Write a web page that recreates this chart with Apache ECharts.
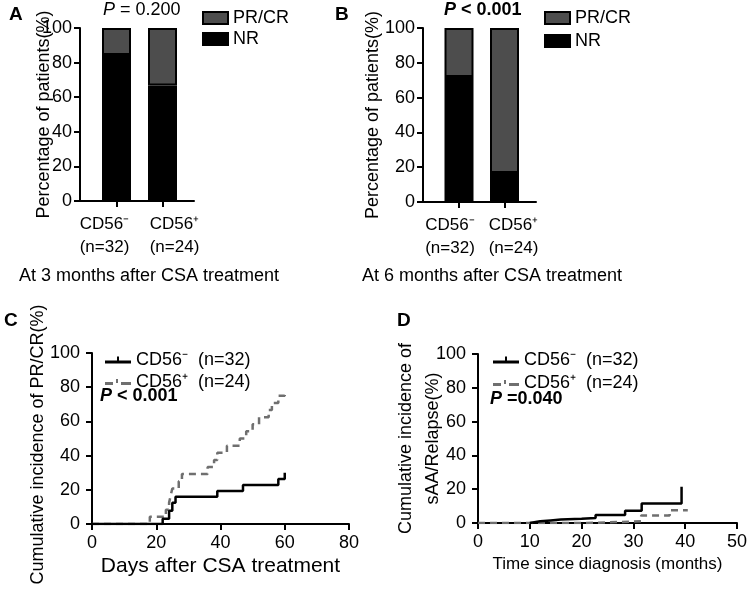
<!DOCTYPE html>
<html><head><meta charset="utf-8">
<script src="https://cdn.jsdelivr.net/npm/echarts@6/dist/echarts.min.js"></script>
<style>html,body{margin:0;padding:0;background:#fff}#c{width:750px;height:595px}</style>
</head><body><div id="c"></div>
<script>
// ---- data ----
const barCategories = ['CD56\u207B\n(n=32)', 'CD56\u207A\n(n=24)'];
const nr3 = [84.4, 66.7];
const prcr3 = [15.6, 33.3];
const nr6 = [71.9, 16.7];
const prcr6 = [28.1, 83.3];

// Panel C: cumulative incidence of PR/CR vs days
const cNeg = [[0,0],[22,3.1],[24,7.8],[25,12.5],[26,16],[39,19.3],[47,22.8],[58,26.3],[60,30]];
const cPos = [[0,0],[18,4.2],[23,8.3],[24,12.5],[24.5,16.7],[25,20.8],[27,25],[28,29.2],[36,33.3],[38,37.5],[39,41.7],[42,45.8],[46,50],[48,54.2],[50,58.3],[52,62.5],[55,66.7],[56,70.8],[58,75],[60,77.5]];
// Panel D: cumulative incidence of sAA/Relapse vs months
const dNeg = [[10,0],[10,1],[12,1.5],[14,2],[16,2.5],[20,3],[22.7,4.7],[28.4,7.3],[31.6,11.6],[39.3,21.5]];
const dPos = [[0,0],[21,1],[31.5,4.5],[37,7.5],[40.5,7.5]];

const negName = 'CD56\u207B  (n=32)';
const posName = 'CD56\u207A  (n=24)';

// ---- chart ----
const ff = 'Liberation Sans, Arial, Helvetica, sans-serif';
const chart = echarts.init(document.getElementById('c'));

const axisLineStyle = {show: true, lineStyle: {color: '#000', width: 2}};
const tickStyle = {show: true, length: 6, lineStyle: {color: '#000', width: 2}};
const lbl = {color: '#000', fontSize: 18, fontFamily: ff};

function barX(idx, spread) {
  const base = {color: '#000', fontSize: 17, fontFamily: ff, lineHeight: 23};
  return {
    type: 'category', gridIndex: idx, data: barCategories,
    axisLine: {show: false}, splitLine: {show: false},
    axisTick: Object.assign({alignWithLabel: true}, tickStyle),
    axisLabel: {color: '#000', fontSize: 17, fontFamily: ff, lineHeight: 23, margin: 12, interval: 0,
      formatter: (v, i) => v.split('\n').map(s => '{' + (i === 0 ? 'a' : 'b') + '|' + s + '}').join('\n'),
      rich: {
        a: Object.assign({padding: [0, spread, 0, 0]}, base),
        b: Object.assign({padding: [0, 0, 0, spread]}, base)
      }}
  };
}
function barY(idx, gap, offset) {
  return {
    type: 'value', gridIndex: idx, min: 0, max: 100, interval: 20, offset: offset,
    axisLine: axisLineStyle, axisTick: tickStyle, splitLine: {show: false},
    axisLabel: Object.assign({margin: 8}, lbl),
    name: 'Percentage of patients(%)', nameLocation: 'middle', nameGap: gap, nameMoveOverlap: false,
    nameTextStyle: {color: '#000', fontSize: 18, fontFamily: ff}
  };
}
// frame axis that draws the full-width baseline of a bar panel
function baseX(idx) {
  return {type: 'value', gridIndex: idx, min: 0, max: 1, axisLine: axisLineStyle,
    axisTick: {show: false}, axisLabel: {show: false}, splitLine: {show: false}};
}
function hiddenY(idx) {
  return {type: 'value', gridIndex: idx, min: 0, max: 1, show: false};
}
function barSeries(name, vals, idx, color) {
  return {
    type: 'bar', name: name, stack: 'b' + idx, xAxisIndex: idx, yAxisIndex: idx,
    barWidth: 29, data: vals,
    itemStyle: {color: color, borderColor: '#000', borderWidth: 2},
    emphasis: {disabled: true}
  };
}
function kmSeries(name, data, idx, dashed) {
  return {
    type: 'line', name: name, step: 'end', xAxisIndex: idx, yAxisIndex: idx,
    data: data, showSymbol: false, symbol: 'none',
    itemStyle: {color: dashed ? '#6f6f6f' : '#000'},
    lineStyle: {color: dashed ? '#6f6f6f' : '#000', width: 2.5, type: dashed ? [7, 5] : 'solid'},
    emphasis: {disabled: true}
  };
}
function titleText(text, left, top, size, weight, rich) {
  return {text: text, left: left, top: top, padding: 0,
    textStyle: {color: '#000', fontSize: size, fontWeight: weight || 'normal', fontFamily: ff, rich: rich}};
}
const pRichNormal = {i: {fontStyle: 'italic', fontSize: 18, fontFamily: ff, color: '#000'}};
const pRichBold = {i: {fontStyle: 'italic', fontWeight: 'bold', fontSize: 18, fontFamily: ff, color: '#000'}};

const solidIcon = 'path://M0,4h26v3h-26z M12,0h2v4h-2z';
const dashIcon = 'path://M0,4h8v3h-8z M11,1h2v4h-2z M16,4h10v3h-10z';

function kmLegend(left, top, gap) {
  return {data: [{name: negName, icon: solidIcon}, {name: posName, icon: dashIcon}],
    orient: 'vertical', left: left, top: top, itemWidth: 26, itemHeight: 8, itemGap: gap,
    textStyle: {color: '#000', fontSize: 18, fontFamily: ff}, selectedMode: false};
}
function barLegend(left, top, gap) {
  return {data: ['PR/CR', 'NR'], orient: 'vertical', left: left, top: top, itemWidth: 25, itemHeight: 12,
    itemGap: gap, icon: 'rect', textStyle: {color: '#000', fontSize: 18, fontFamily: ff}, selectedMode: false};
}

const option = {
  animation: false,
  textStyle: {fontFamily: ff},
  title: [
    titleText('A', 9, 5, 19, 'bold'),
    titleText('B', 335, 5, 19, 'bold'),
    titleText('C', 4, 311, 19, 'bold'),
    titleText('D', 397, 311, 19, 'bold'),
    titleText('{i|P} = 0.200', 103, 1, 18, 'normal', pRichNormal),
    titleText('{i|P} < 0.001', 444, 1, 18, 'bold', pRichBold),
    titleText('At 3 months after CSA treatment', 19, 267, 18),
    titleText('At 6 months after CSA treatment', 362, 267, 18),
    titleText('{i|P} < 0.001', 100, 387, 18, 'bold', pRichBold),
    titleText('{i|P} =0.040', 490, 390, 18, 'bold', pRichBold)
  ],
  legend: [
    barLegend(197, 4, 3),
    barLegend(539, 4, 5),
    kmLegend(100, 346, 4),
    kmLegend(488, 346, 5)
  ],
  grid: [
    {left: 93.5, top: 28, width: 92, height: 173},
    {left: 436.25, top: 28, width: 91, height: 174},
    {left: 92, top: 353, width: 257, height: 171},
    {left: 478, top: 354, width: 261, height: 169},
    {left: 80, top: 28, width: 114, height: 173},
    {left: 423, top: 28, width: 113, height: 174}
  ],
  xAxis: [
    barX(0, 24), barX(1, 18),
    {type: 'value', gridIndex: 2, min: 0, max: 80, interval: 20, axisLine: axisLineStyle, axisTick: tickStyle,
     splitLine: {show: false}, axisLabel: Object.assign({margin: 10}, lbl),
     name: 'Days after CSA treatment', nameLocation: 'middle', nameGap: 32, nameMoveOverlap: false,
     nameTextStyle: {color: '#000', fontSize: 21, fontFamily: ff}},
    {type: 'value', gridIndex: 3, min: 0, max: 50, interval: 10, axisLine: axisLineStyle, axisTick: tickStyle,
     splitLine: {show: false}, axisLabel: Object.assign({margin: 10}, lbl),
     name: 'Time since diagnosis (months)', nameLocation: 'middle', nameGap: 33, nameMoveOverlap: false,
     nameTextStyle: {color: '#000', fontSize: 17, fontFamily: ff}},
    baseX(4), baseX(5)
  ],
  yAxis: [
    barY(0, 27, 13.5), barY(1, 41, 13.25),
    {type: 'value', gridIndex: 2, min: 0, max: 100, interval: 20, axisLine: axisLineStyle, axisTick: tickStyle,
     splitLine: {show: false}, axisLabel: Object.assign({margin: 12}, lbl),
     name: 'Cumulative incidence of PR/CR(%)', nameLocation: 'middle', nameGap: 45, nameMoveOverlap: false,
     nameTextStyle: {color: '#000', fontSize: 18, fontFamily: ff, padding: [0, 12, 0, 0]}},
    {type: 'value', gridIndex: 3, min: 0, max: 100, interval: 20, axisLine: axisLineStyle, axisTick: tickStyle,
     splitLine: {show: false}, axisLabel: Object.assign({margin: 12}, lbl),
     name: 'Cumulative incidence of\nsAA/Relapse(%)', nameLocation: 'middle', nameGap: 31, nameMoveOverlap: false,
     nameTextStyle: {color: '#000', fontSize: 18, fontFamily: ff, lineHeight: 27}},
    hiddenY(4), hiddenY(5)
  ],
  series: [
    barSeries('NR', nr3, 0, '#000'),
    barSeries('PR/CR', prcr3, 0, '#4d4d4d'),
    barSeries('NR', nr6, 1, '#000'),
    barSeries('PR/CR', prcr6, 1, '#4d4d4d'),
    kmSeries(posName, cPos, 2, true),
    kmSeries(negName, cNeg, 2, false),
    kmSeries(posName, dPos, 3, true),
    kmSeries(negName, dNeg, 3, false)
  ]
};
chart.setOption(option);
</script>
</body></html>
